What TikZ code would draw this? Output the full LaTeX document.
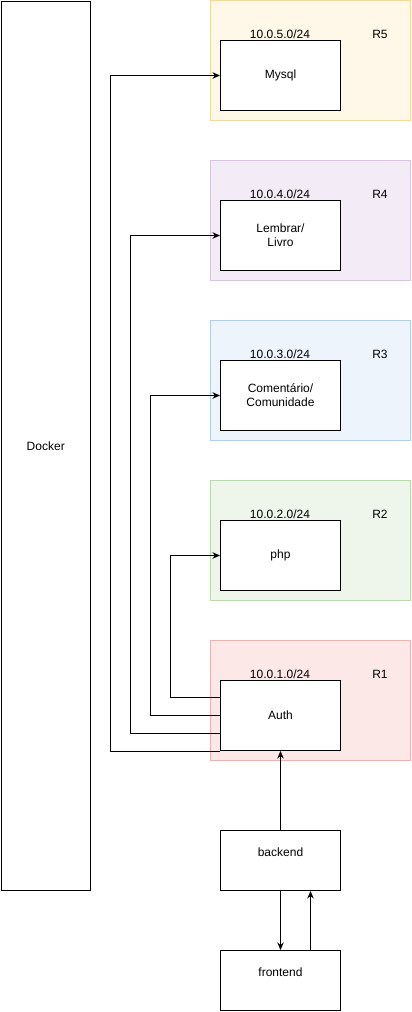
\documentclass[tikz,border=0pt]{standalone}
\usepackage{fontspec}
\setmainfont{Liberation Sans}
\usetikzlibrary{arrows.meta,calc}
\definecolor{r5f}{HTML}{FFF8E8}\definecolor{r5s}{HTML}{F0DA9E}
\definecolor{r4f}{HTML}{F3EBF5}\definecolor{r4s}{HTML}{D8C4DE}
\definecolor{r3f}{HTML}{EEF4FC}\definecolor{r3s}{HTML}{B4CFEC}
\definecolor{r2f}{HTML}{EEF6EB}\definecolor{r2s}{HTML}{BCDAAF}
\definecolor{r1f}{HTML}{FBE8E7}\definecolor{r1s}{HTML}{EEB3B1}
\tikzset{
  every node/.style={font=\fontsize{12}{14}\selectfont},
  region/.style={draw=#1s, fill=#1f, line width=0.8pt, minimum width=200pt, minimum height=120pt, inner sep=0pt, anchor=north west},
  svc/.style={draw=black, fill=white, line width=1pt, minimum width=120pt, minimum height=70pt, inner sep=0pt, anchor=north west, align=center},
  lbl/.style={inner sep=0pt},
  arr/.style={draw=black, line width=1pt, -{Stealth[length=7.5pt,width=6.5pt]}},
}
\begin{document}
\begin{tikzpicture}[x=1pt,y=-1pt]
\useasboundingbox (0,0) rectangle (412,1012);
\node[draw=black, line width=1pt, minimum width=89.5pt, minimum height=889.5pt, anchor=north west, inner sep=0pt] (docker) at (0.5,0.5) {Docker};

\node[region=r5] (r5) at (210,0) {};
\node[region=r4] (r4) at (210,160) {};
\node[region=r3] (r3) at (210,320) {};
\node[region=r2] (r2) at (210,480) {};
\node[region=r1] (r1) at (210,640) {};

\node[lbl] (n5) at (280,34.5) {10.0.5.0/24};
\node[lbl] (l5) at (380,34.5) {R5};
\node[lbl] (n4) at (280,194.5) {10.0.4.0/24};
\node[lbl] (l4) at (380,194.5) {R4};
\node[lbl] (n3) at (280,354.5) {10.0.3.0/24};
\node[lbl] (l3) at (380,354.5) {R3};
\node[lbl] (n2) at (280,514.5) {10.0.2.0/24};
\node[lbl] (l2) at (380,514.5) {R2};
\node[lbl] (n1) at (280,674.5) {10.0.1.0/24};
\node[lbl] (l1) at (380,674.5) {R1};

\node[svc] (mysql) at (220,40) {Mysql};
\node[svc] (lembrar) at (220,200) {Lembrar/\\Livro};
\node[svc] (coment) at (220,360) {Comentário/\\Comunidade};
\node[svc] (php) at (220,520) {php};
\node[svc] (auth) at (220,680) {Auth};
\node[svc, minimum height=60pt] (backend) at (220,830) {};
\node[lbl] (backendt) at (backend.north) [yshift=-22pt] {backend};
\node[svc, minimum height=60pt] (frontend) at (220,950) {};
\node[lbl] (frontendt) at (frontend.north) [yshift=-22pt] {frontend};

\coordinate (a1) at ($(auth.north west)!0.25!(auth.south west)$);
\coordinate (a2) at ($(auth.north west)!0.5!(auth.south west)$);
\coordinate (a3) at ($(auth.north west)!0.75!(auth.south west)$);
\coordinate (a4) at (auth.south west);
\draw[arr] (a1) -- ++(-50,0) |- (php.west);
\draw[arr] (a2) -- ++(-70,0) |- (coment.west);
\draw[arr] (a3) -- ++(-90,0) |- (lembrar.west);
\draw[arr] (a4) -- ++(-110,0) |- (mysql.west);

\draw[arr] (backend.north) -- (auth.south);
\draw[arr] (backend.south) -- (frontend.north);
\draw[arr] ($(frontend.north)+(30,0)$) -- ($(backend.south)+(30,0)$);
\end{tikzpicture}
\end{document}
